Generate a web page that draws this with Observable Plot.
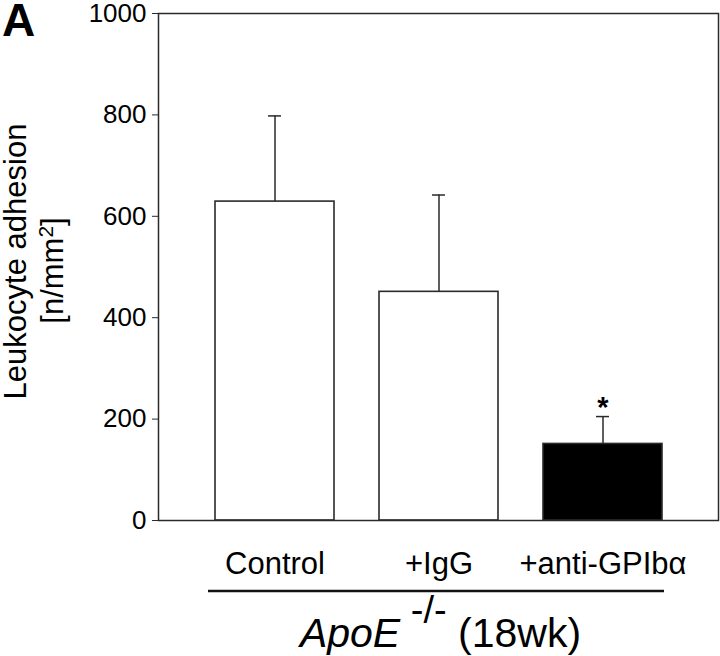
<!DOCTYPE html>
<html><head><meta charset="utf-8">
<script src="https://cdn.jsdelivr.net/npm/d3@7"></script>
<script src="https://cdn.jsdelivr.net/npm/@observablehq/plot@0.6"></script>
<style>
body{margin:0;background:#fff}
svg{font-family:"Liberation Sans",Arial,Helvetica,sans-serif}
</style>
</head><body><div id="chart"></div>
<script>
// ---- data ----
const groups = ["Control", "+IgG", "+anti-GPIbα"];
const means = [629, 451, 151];
const errors = [169, 191, 54];
const significance = ["", "", "*"];
const barFills = ["white", "white", "black"];
const yTicks = [0, 200, 400, 600, 800, 1000];
const yLabelLine1 = "Leukocyte adhesion";
const yLabelLine2 = ["[n/mm", "2", "]"];
const captionParts = ["ApoE", "-/-", "(18wk)"];
const panelLetter = "A";

const data = groups.map((g, i) => ({
  group: g, mean: means[i], err: errors[i], top: means[i] + errors[i],
  sig: significance[i], fill: barFills[i]
}));

const ink = "#2a2a2a";
const plot = Plot.plot({
  width: 720, height: 656,
  marginLeft: 158, marginRight: 2, marginTop: 13, marginBottom: 136,
  style: {fontFamily: '"Liberation Sans",Arial,sans-serif', fontSize: "26px", color: "black", background: "white"},
  x: {type: "band", domain: groups, paddingInner: 0.2755, paddingOuter: 0.3425, label: null},
  y: {domain: [0, 1000], label: null},
  color: {type: "identity"},
  marks: [
    Plot.ruleX(data, {x: "group", y1: "mean", y2: "top", stroke: ink, strokeWidth: 1.5}),
    Plot.tickY(data, {x: "group", y: "top", stroke: ink, strokeWidth: 1.5, insetLeft: 53, insetRight: 53}),
    Plot.barY(data, {x: "group", y: "mean", fill: "fill", stroke: ink, strokeWidth: 1.6}),
    Plot.text(data, {x: "group", y: "top", text: "sig", fontSize: 29, fontWeight: "bold", lineAnchor: "bottom", fill: "black"}),
    Plot.frame({stroke: ink, strokeWidth: 1.5}),
    Plot.axisY({ticks: yTicks, tickFormat: d => String(d), tickSize: 6, tickPadding: 6, fontSize: 26, label: null, stroke: ink}),
    Plot.axisX({tickSize: 0, tickPadding: 31, fontSize: 31, label: null})
  ]
});
document.getElementById("chart").appendChild(plot);

// ---- decorations: axis title, group underline, caption, panel letter ----
const svg = d3.select(plot);
const xs = plot.scale("x");
const ys = plot.scale("y");
const bw = xs.bandwidth;
const firstX = xs.apply(groups[0]);
const lastX = xs.apply(groups[groups.length - 1]) + bw;
const baseY = ys.apply(0);
const topY = ys.apply(1000);
const midY = (baseY + topY) / 2;

svg.append("line")
  .attr("x1", firstX - 7).attr("x2", lastX + 2)
  .attr("y1", baseY + 71).attr("y2", baseY + 71)
  .attr("stroke", "#111").attr("stroke-width", 2.5);

const cap = svg.append("text")
  .attr("x", (firstX + lastX) / 2 + 2).attr("y", baseY + 127)
  .attr("text-anchor", "middle").attr("font-size", 41).attr("fill", "black");
cap.append("tspan").attr("font-style", "italic").text(captionParts[0]);
cap.append("tspan").attr("font-size", 38).attr("dy", -24).text(" " + captionParts[1]);
cap.append("tspan").attr("dy", 24).text(" " + captionParts[2]);

svg.append("text")
  .attr("transform", `translate(26,${midY - 5}) rotate(-90)`)
  .attr("text-anchor", "middle").attr("font-size", 31).attr("fill", "black")
  .text(yLabelLine1);
const l2 = svg.append("text")
  .attr("transform", `translate(63,${midY + 4}) rotate(-90)`)
  .attr("text-anchor", "middle").attr("font-size", 31).attr("fill", "black");
l2.append("tspan").text(yLabelLine2[0]);
l2.append("tspan").attr("font-size", 21).attr("dy", -10).text(yLabelLine2[1]);
l2.append("tspan").attr("dy", 10).text(yLabelLine2[2]);

svg.append("text")
  .attr("x", 2).attr("y", 36).attr("text-anchor", "start")
  .attr("font-size", 46).attr("font-weight", "bold").attr("fill", "black")
  .text(panelLetter);
</script>
</body></html>
